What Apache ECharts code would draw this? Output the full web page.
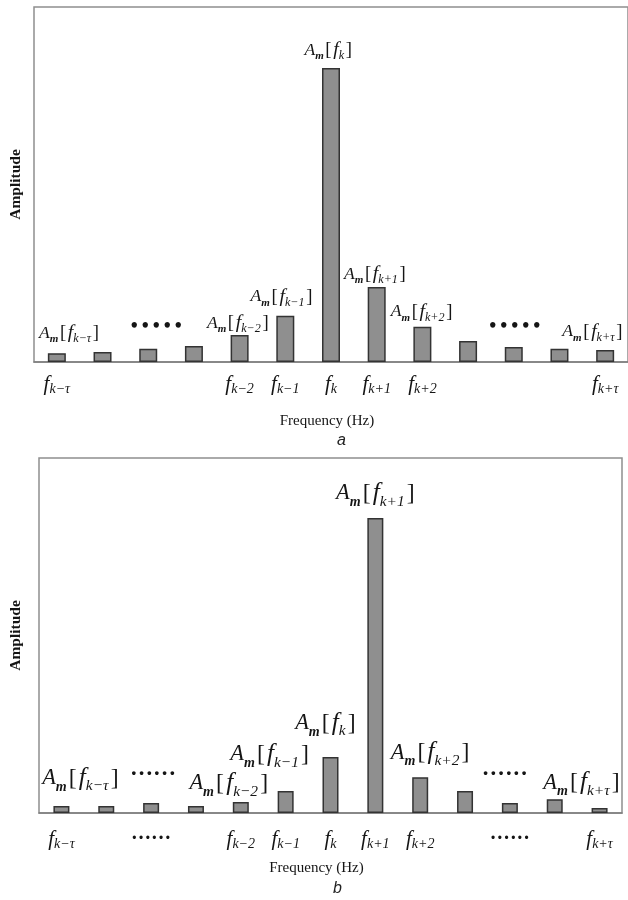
<!DOCTYPE html>
<html>
<head>
<meta charset="utf-8">
<script src="https://cdn.jsdelivr.net/npm/echarts@6/dist/echarts.min.js"></script>
<style>
  html, body { margin: 0; padding: 0; background: #ffffff; }
  #chart { width: 628px; height: 900px; }
</style>
</head>
<body>
<div id="chart"></div>
<script>
// Frequency bins, offsets from the bin k
const bins = ['-6', '-5', '-4', '-3', '-2', '-1', '0', '+1', '+2', '+3', '+4', '+5', '+6'];

// Spectrum amplitudes (arbitrary units, axis runs 0..100)
const amplitudeA = [2.5, 2.8, 3.7, 4.5, 7.6, 13.0, 82.8, 21.1, 9.9, 5.9, 4.2, 3.7, 3.4];
const amplitudeB = [2.0, 2.0, 2.8, 2.0, 3.1, 6.2, 15.8, 83.1, 10.1, 6.2, 2.8, 3.9, 1.4];

// Frequency tick labels (subscripts of f), '' = no label
const ticksA = ['k−τ', '', '', '', 'k−2', 'k−1', 'k', 'k+1', 'k+2', '', '', '', 'k+τ'];
const ticksB = ['k−τ', '', '······', '', 'k−2', 'k−1', 'k', 'k+1', 'k+2', '', '······', '', 'k+τ'];

// Annotations above the bars: subscript of A_m[f_..], or an ellipsis
const notesA = ['k−τ', '', '• • • • •', '', 'k−2', 'k−1', 'k', 'k+1', 'k+2', '', '• • • • •', '', 'k+τ'];
const notesB = ['k−τ', '', '······', '', 'k−2', 'k−1', 'k', 'k+1', 'k+2', '', '······', '', 'k+τ'];

// Label nudges [dx, dy] in px for each bar's annotation
const nudgeA = [[13, -8], [0, 0], [8, -10], [0, 0], [-1, 0], [-3, -7], [-2, -6], [-1, -1], [0, -3], [0, 0], [1, -8], [0, 0], [-12, -6]];
const nudgeB = [[20, -12], [0, 0], [2, -13], [0, 0], [-11, -3], [-15, -21], [-4, -18], [1, -9], [11, -9], [0, 0], [-5, -13], [0, 0], [-17, -10]];

const SERIF = '"Liberation Serif", "DejaVu Serif", serif';
const INK = '#151515';

function noteRich(s, dotSize) {
  return {
    A:   { fontFamily: SERIF, fontStyle: 'italic', fontSize: 16 * s, lineHeight: 22 * s, color: INK },
    m:   { fontFamily: SERIF, fontStyle: 'italic', fontWeight: 'bold', fontSize: 10 * s, lineHeight: 11 * s, verticalAlign: 'bottom', color: INK },
    br:  { fontFamily: SERIF, fontSize: 17 * s, lineHeight: 22 * s, color: INK, padding: [0, 1.5 * s, 0, 1.5 * s] },
    f:   { fontFamily: SERIF, fontStyle: 'italic', fontSize: 18 * s, lineHeight: 22 * s, color: INK },
    sub: { fontFamily: SERIF, fontStyle: 'italic', fontSize: 11 * s, lineHeight: 12 * s, verticalAlign: 'bottom', color: INK },
    dot: { fontFamily: SERIF, fontWeight: 'bold', fontSize: dotSize, lineHeight: 22 * s, color: INK }
  };
}

const tickRich = {
  f:   { fontFamily: SERIF, fontStyle: 'italic', fontSize: 21, lineHeight: 24, color: INK },
  sub: { fontFamily: SERIF, fontStyle: 'italic', fontSize: 14, lineHeight: 14, verticalAlign: 'bottom', color: INK },
  dot: { fontFamily: SERIF, fontWeight: 'bold', fontSize: 20, lineHeight: 24, color: INK }
};

function noteText(t) {
  if (!t) return '';
  if (t[0] === '•' || t[0] === '·') return '{dot|' + t.replace(/ /g, '\u2009') + '}';
  return '{A|A}{m|m}{br|[}{f|f}{sub|' + t + '}{br|]}';
}

function tickText(t) {
  if (!t) return '';
  if (t[0] === '·') return '{dot|' + t + '}';
  return '{f|f}{sub|' + t + '}';
}

function panel(gridIndex, values, ticks, notes, nudge, scale, dotSize, barWidth, nameGapX, namePadX, nameGapY, tickMargin) {
  const xAxis = {
    type: 'category', gridIndex: gridIndex, data: bins,
    boundaryGap: true,
    axisLine: { show: true, lineStyle: { color: '#7d7d7d', width: 1.5 } },
    axisTick: { show: false },
    axisLabel: {
      interval: 0, margin: tickMargin, hideOverlap: false,
      formatter: function (v, i) { return tickText(ticks[i]); },
      rich: tickRich
    },
    name: 'Frequency (Hz)', nameLocation: 'middle', nameGap: nameGapX,
    nameTextStyle: { fontFamily: SERIF, fontSize: 15, color: INK, padding: [0, namePadX, 0, 0] }
  };
  const yAxis = {
    type: 'value', gridIndex: gridIndex, min: 0, max: 100,
    axisLine: { show: false }, axisTick: { show: false },
    axisLabel: { show: false }, splitLine: { show: false },
    name: 'Amplitude', nameLocation: 'middle', nameGap: nameGapY,
    nameTextStyle: { fontFamily: SERIF, fontSize: 15.5, fontWeight: 'bold', color: INK }
  };
  const series = {
    type: 'bar', xAxisIndex: gridIndex, yAxisIndex: gridIndex,
    barWidth: barWidth,
    itemStyle: { color: '#8f8f8f', borderColor: '#333333', borderWidth: 1.5 },
    data: values.map(function (v, i) {
      return { value: v, label: { offset: nudge[i] } };
    }),
    label: {
      show: true, position: 'top', distance: 0,
      formatter: function (p) { return noteText(notes[p.dataIndex]); },
      rich: noteRich(scale, dotSize)
    },
    silent: true,
    animation: false
  };
  return { xAxis: xAxis, yAxis: yAxis, series: series };
}

const panelA = panel(0, amplitudeA, ticksA, notesA, nudgeA, 1.1, 20, 18, 52, 8, 10, 10);
const panelB = panel(1, amplitudeB, ticksB, notesB, nudgeB, 1.4, 23, 16, 48, 28, 15, 14);

const chart = echarts.init(document.getElementById('chart'), null, { renderer: 'canvas' });
chart.setOption({
  backgroundColor: '#ffffff',
  animation: false,
  grid: [
    { left: 33, top: 7, width: 598, height: 355, show: true, borderColor: '#8f8f8f', borderWidth: 1.5, backgroundColor: 'transparent' },
    { left: 38, top: 458, width: 584, height: 355, show: true, borderColor: '#8f8f8f', borderWidth: 1.5, backgroundColor: 'transparent' }
  ],
  xAxis: [panelA.xAxis, panelB.xAxis],
  yAxis: [panelA.yAxis, panelB.yAxis],
  series: [panelA.series, panelB.series],
  graphic: [
    { type: 'text', left: 337, top: 433, style: { text: 'a', font: 'italic 16px "Liberation Sans", Arial, sans-serif', fill: '#222' } },
    { type: 'text', left: 333, top: 881, style: { text: 'b', font: 'italic 16px "Liberation Sans", Arial, sans-serif', fill: '#222' } }
  ]
});
</script>
</body>
</html>
